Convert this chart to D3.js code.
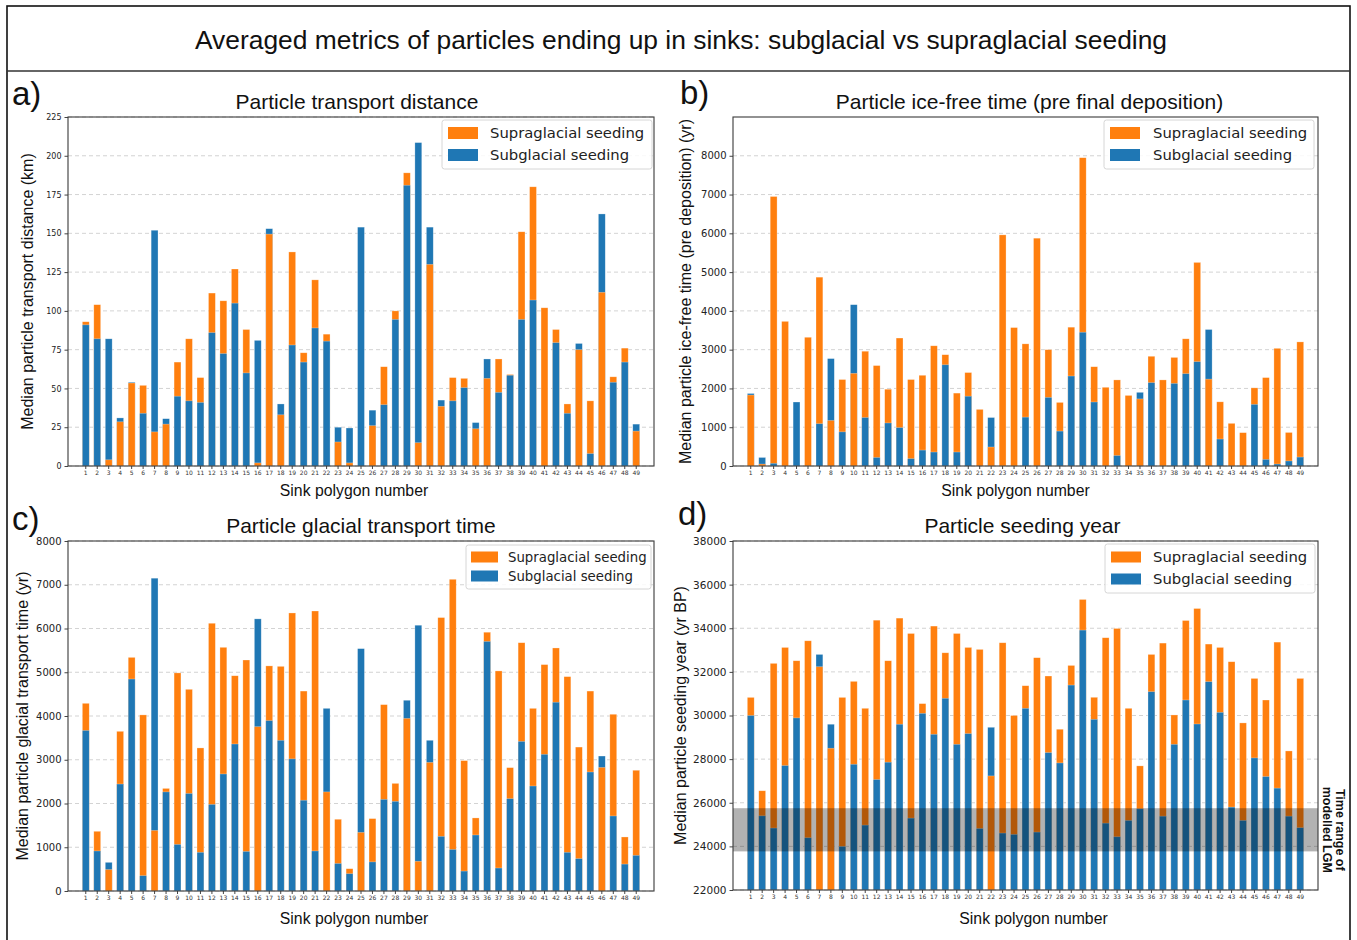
<!DOCTYPE html>
<html>
<head>
<meta charset="utf-8">
<script src="https://cdn.jsdelivr.net/npm/d3@7"></script>
<style>
  body { margin: 0; background: #fff; }
  svg { display: block; }
</style>
</head>
<body>
<div id="chart"></div>
<script>
// sink polygon categories
const sinks = [1, 2, 3, 4, 5, 6, 7, 8, 9, 10, 11, 12, 13, 14, 15, 16, 17, 18, 19, 20,
    21, 22, 23, 24, 25, 26, 27, 28, 29, 30, 31, 32, 33, 34, 35, 36, 37, 38, 39, 40,
    41, 42, 43, 44, 45, 46, 47, 48, 49];

// a) transport distance (km)
const distSupra = [93, 104, 4, 28.5, 53.5, 52, 22, 27, 67, 82, 57, 111.5, 106.5, 127, 88, 2, 149.5, 33, 138, 73,
    120, 85, 15.5, 2, 0, 26, 64, 100, 189, 15, 130, 38.5, 57, 56.5, 24, 56.5, 69, 59, 151, 180,
    102, 88, 40, 75, 42, 112, 57.5, 76, 22.5];
const distSub = [91, 82, 82, 31, 54, 34, 152, 30.5, 45, 42, 41, 86, 72.5, 105, 60, 81, 153, 40, 78, 67,
    89, 80.5, 25, 24.5, 154, 36, 39.5, 94.5, 181, 208.5, 154, 42.5, 42, 50.5, 28, 69, 47.5, 58.5, 94.5, 107,
    0, 79.5, 34, 79, 8, 162.5, 54, 67, 27];
const distTicks = [0, 25, 50, 75, 100, 125, 150, 175, 200, 225];

// b) ice-free time (yr)
const iceSupra = [1830, 50, 6950, 3730, 0, 3320, 4870, 1175, 2230, 2390, 2960, 2590, 1980, 3300, 2230, 2340, 3100, 2870, 1880, 2410,
    1460, 490, 5960, 3570, 3150, 5875, 3000, 1640, 3580, 7950, 2560, 2030, 2220, 1820, 1730, 2830, 2220, 2800, 3280, 5250,
    2240, 1655, 1100, 860, 2015, 2280, 3035, 865, 3200];
const iceSub = [1870, 220, 70, 0, 1650, 0, 1090, 2770, 880, 4160, 1250, 220, 1110, 990, 190, 410, 360, 2610, 360, 1800,
    0, 1250, 0, 0, 1260, 0, 1770, 900, 2320, 3450, 1650, 0, 270, 0, 1900, 2150, 0, 2130, 2380, 2690,
    3520, 695, 0, 0, 1590, 170, 50, 130, 230];
const iceTicks = [0, 1000, 2000, 3000, 4000, 5000, 6000, 7000, 8000];

// c) glacial transport time (yr)
const glacSupra = [4290, 1365, 490, 3650, 5340, 4025, 1385, 2345, 4985, 4610, 3270, 6120, 5570, 4920, 5280, 3755, 5145, 5135, 6355, 4570,
    6400, 2265, 1640, 510, 1340, 1655, 4260, 2460, 3945, 680, 2940, 6250, 7125, 2980, 1670, 5915, 5030, 2820, 5675, 4175,
    5175, 5555, 4900, 3290, 4570, 2825, 4040, 1235, 2760];
const glacSub = [3670, 915, 655, 2445, 4845, 350, 7150, 2265, 1065, 2230, 885, 1980, 2675, 3360, 905, 6220, 3895, 3445, 3020, 2075,
    915, 4175, 630, 395, 5540, 665, 2095, 2050, 4360, 6075, 3445, 1250, 950, 455, 1280, 5705, 525, 2110, 3420, 2400,
    3125, 4315, 885, 740, 2720, 3085, 1715, 615, 815];
const glacTicks = [0, 1000, 2000, 3000, 4000, 5000, 6000, 7000, 8000];

// d) seeding year (yr BP)
const seedSupra = [30830, 26550, 32390, 33120, 32510, 33425, 32235, 28500, 30830, 31565, 30330, 34370, 32510, 34465, 33760, 30545, 34100, 32875, 33760, 33120,
    33030, 27230, 33335, 30000, 31365, 32650, 31810, 29370, 32295, 35320, 30835, 33565, 33990, 30330, 27690, 32800, 33320, 30025, 34355, 34905,
    33275, 33120, 32465, 29660, 31700, 30710, 33365, 28375, 31700];
const seedSub = [30000, 25400, 24840, 27705, 29890, 24395, 32800, 29600, 24000, 27765, 24975, 27065, 27860, 29600, 25295, 30100, 29140, 30790, 28680, 29170,
    24820, 29460, 24610, 24550, 30330, 24655, 28300, 27825, 31395, 33915, 29825, 25065, 24440, 25190, 25720, 31090, 25385, 28680, 30710, 29610,
    31550, 30145, 25800, 25190, 28055, 27200, 26670, 25385, 24855];
const seedTicks = [22000, 24000, 26000, 28000, 30000, 32000, 34000, 36000, 38000];
const lgmRange = [23770, 25750];

const seriesNames = ['Supraglacial seeding', 'Subglacial seeding'];
const ORANGE = '#ff7f0e';
const BLUE = '#1f77b4';
const SANS = "'Liberation Sans', Arial, sans-serif";
const DEJAVU = "'DejaVu Sans', sans-serif";

const W = 1357, H = 940;
const svg = d3.select('#chart').append('svg')
    .attr('width', W)
    .attr('height', H);

// outer frame and figure title
svg.append('rect')
    .attr('x', 7).attr('y', 6)
    .attr('width', 1343).attr('height', 945)
    .attr('fill', 'none')
    .attr('stroke', '#111')
    .attr('stroke-width', 1.6);
svg.append('line')
    .attr('x1', 7).attr('x2', 1350)
    .attr('y1', 71).attr('y2', 71)
    .attr('stroke', '#333')
    .attr('stroke-width', 1.4);
svg.append('text')
    .attr('x', 681).attr('y', 40)
    .attr('dy', '0.35em')
    .attr('text-anchor', 'middle')
    .attr('font-family', SANS)
    .attr('font-size', 26.4)
    .attr('fill', '#111')
    .text('Averaged metrics of particles ending up in sinks: subglacial vs supraglacial seeding');

const panels = [
    {
        letter: 'a)', letterX: 12, letterY: 93,
        title: 'Particle transport distance', titleY: 102, titleDx: -4,
        ylabel: 'Median particle transport distance (km)', ylabelX: 27,
        xlabelY: 490, xlabelDx: -7,
        x0: 68, x1: 654, y0: 117, y1: 466,
        domain: [0, 225], ticks: distTicks, tickFont: 8,
        supra: distSupra, sub: distSub,
        legend: { x: 442, y: 120, w: 210, h: 49, swX: 448, swW: 30, swH: 12, row1: 133, row2: 155, textX: 490, font: 14.8 }
    },
    {
        letter: 'b)', letterX: 680, letterY: 92,
        title: 'Particle ice-free time (pre final deposition)', titleY: 102, titleDx: 4,
        ylabel: 'Median particle ice-free time (pre deposition) (yr)', ylabelX: 685,
        xlabelY: 490, xlabelDx: -10,
        x0: 733, x1: 1318, y0: 117, y1: 466,
        domain: [0, 9000], ticks: iceTicks, tickFont: 10,
        supra: iceSupra, sub: iceSub,
        legend: { x: 1104, y: 120, w: 210, h: 49, swX: 1110, swW: 30, swH: 12, row1: 133, row2: 155, textX: 1153, font: 14.8 }
    },
    {
        letter: 'c)', letterX: 12, letterY: 518,
        title: 'Particle glacial transport time', titleY: 526, titleDx: 0,
        ylabel: 'Median particle glacial transport time (yr)', ylabelX: 22,
        xlabelY: 918, xlabelDx: -7,
        x0: 68, x1: 654, y0: 541, y1: 891,
        domain: [0, 8000], ticks: glacTicks, tickFont: 10,
        supra: glacSupra, sub: glacSub,
        legend: { x: 466, y: 545, w: 185, h: 44, swX: 471, swW: 27, swH: 11, row1: 557, row2: 576, textX: 508, font: 13.3 }
    },
    {
        letter: 'd)', letterX: 678, letterY: 513,
        title: 'Particle seeding year', titleY: 526, titleDx: -3,
        ylabel: 'Median particle seeding year (yr BP)', ylabelX: 680,
        xlabelY: 918, xlabelDx: 8,
        x0: 733, x1: 1318, y0: 541, y1: 890,
        domain: [22000, 38000], ticks: seedTicks, tickFont: 10.5,
        supra: seedSupra, sub: seedSub,
        band: lgmRange,
        legend: { x: 1105, y: 544, w: 210, h: 49, swX: 1111, swW: 30, swH: 11, row1: 557, row2: 579, textX: 1153, font: 14.8 }
    }
];

panels.forEach(p => drawPanel(p));

function drawPanel(p) {
    const g = svg.append('g');

    const x = d3.scaleBand()
        .domain(sinks)
        .range([p.x0, p.x1])
        .paddingInner(0.4)
        .paddingOuter(1.25);
    const y = d3.scaleLinear()
        .domain(p.domain)
        .range([p.y1, p.y0]);

    // dashed grid lines
    g.append('g')
        .selectAll('line')
        .data(p.ticks)
        .enter()
        .append('line')
        .attr('x1', p.x0).attr('x2', p.x1)
        .attr('y1', d => y(d)).attr('y2', d => y(d))
        .attr('stroke', '#c8c8c8')
        .attr('stroke-width', 0.8)
        .attr('stroke-dasharray', '4,3');

    // bars overlap from the baseline: the taller one sits behind
    const base = p.domain[0];
    const rows = sinks.map((s, i) => {
        const pair = [
            { sink: s, v: p.supra[i], color: ORANGE },
            { sink: s, v: p.sub[i], color: BLUE }
        ];
        return pair.sort((a, b) => b.v - a.v);
    });
    const bars = [].concat(...rows).filter(d => d.v > base);

    g.append('g')
        .selectAll('rect')
        .data(bars)
        .enter()
        .append('rect')
        .attr('x', d => x(d.sink))
        .attr('width', x.bandwidth())
        .attr('y', d => y(d.v))
        .attr('height', d => y(base) - y(d.v))
        .attr('fill', d => d.color)
        .attr('stroke', 'rgba(255,255,255,0.45)')
        .attr('stroke-width', 0.6);

    // LGM time range band (panel d)
    if (p.band) {
        g.append('rect')
            .attr('x', p.x0)
            .attr('width', p.x1 - p.x0)
            .attr('y', y(p.band[1]))
            .attr('height', y(p.band[0]) - y(p.band[1]))
            .attr('fill', 'rgba(0,0,0,0.3)');

        const note = svg.append('text')
            .attr('transform', `translate(1336, ${(y(p.band[0]) + y(p.band[1])) / 2}) rotate(90)`)
            .attr('text-anchor', 'middle')
            .attr('font-family', SANS)
            .attr('font-weight', 'bold')
            .attr('font-size', 12.5)
            .attr('fill', '#111');
        note.append('tspan').attr('x', 0).attr('y', 0).text('Time range of');
        note.append('tspan').attr('x', 0).attr('y', 13).text('modelled LGM');
    }

    // axes
    const yAxis = d3.axisLeft(y)
        .tickValues(p.ticks)
        .tickSize(3.5)
        .tickPadding(3)
        .tickFormat(d3.format('d'));
    const ya = g.append('g')
        .attr('transform', `translate(${p.x0},0)`)
        .call(yAxis);
    ya.select('.domain').remove();
    ya.selectAll('text')
        .attr('font-family', DEJAVU)
        .attr('font-size', p.tickFont)
        .attr('fill', '#222');
    ya.selectAll('line').attr('stroke', '#444');

    const xAxis = d3.axisBottom(x)
        .tickSize(3)
        .tickPadding(2);
    const xa = g.append('g')
        .attr('transform', `translate(0,${p.y1})`)
        .call(xAxis);
    xa.select('.domain').remove();
    xa.selectAll('text')
        .attr('font-family', DEJAVU)
        .attr('font-size', 6)
        .attr('fill', '#333');
    xa.selectAll('line').attr('stroke', '#444');

    // frame of plot area
    g.append('rect')
        .attr('x', p.x0).attr('y', p.y0)
        .attr('width', p.x1 - p.x0).attr('height', p.y1 - p.y0)
        .attr('fill', 'none')
        .attr('stroke', '#3a3a3a')
        .attr('stroke-width', 1.1);

    // titles and labels
    svg.append('text')
        .attr('x', (p.x0 + p.x1) / 2 + p.titleDx).attr('y', p.titleY)
        .attr('dy', '0.35em')
        .attr('text-anchor', 'middle')
        .attr('font-family', SANS)
        .attr('font-size', 21)
        .attr('fill', '#111')
        .text(p.title);

    svg.append('text')
        .attr('x', p.letterX).attr('y', p.letterY)
        .attr('dy', '0.35em')
        .attr('font-family', SANS)
        .attr('font-size', 33)
        .attr('fill', '#111')
        .text(p.letter);

    svg.append('text')
        .attr('transform', `translate(${p.ylabelX}, ${(p.y0 + p.y1) / 2}) rotate(-90)`)
        .attr('dy', '0.35em')
        .attr('text-anchor', 'middle')
        .attr('font-family', SANS)
        .attr('font-size', 16)
        .attr('fill', '#111')
        .text(p.ylabel);

    svg.append('text')
        .attr('x', (p.x0 + p.x1) / 2 + p.xlabelDx).attr('y', p.xlabelY)
        .attr('dy', '0.35em')
        .attr('text-anchor', 'middle')
        .attr('font-family', SANS)
        .attr('font-size', 15.8)
        .attr('fill', '#111')
        .text('Sink polygon number');

    // legend
    const L = p.legend;
    const lg = svg.append('g');
    lg.append('rect')
        .attr('x', L.x).attr('y', L.y)
        .attr('width', L.w).attr('height', L.h)
        .attr('rx', 2.5)
        .attr('fill', 'rgba(255,255,255,0.85)')
        .attr('stroke', '#d6d6d6')
        .attr('stroke-width', 1);
    const items = [
        { name: seriesNames[0], color: ORANGE, cy: L.row1 },
        { name: seriesNames[1], color: BLUE, cy: L.row2 }
    ];
    items.forEach(it => {
        lg.append('rect')
            .attr('x', L.swX).attr('y', it.cy - L.swH / 2)
            .attr('width', L.swW).attr('height', L.swH)
            .attr('fill', it.color);
        lg.append('text')
            .attr('x', L.textX).attr('y', it.cy)
            .attr('dy', '0.35em')
            .attr('font-family', DEJAVU)
            .attr('font-size', L.font)
            .attr('fill', '#222')
            .text(it.name);
    });
}
</script>
</body>
</html>
